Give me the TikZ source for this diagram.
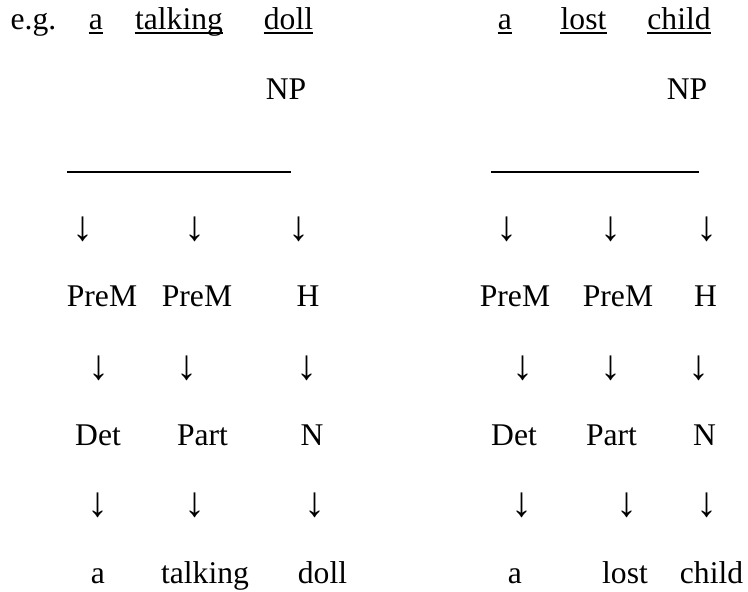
\documentclass[tikz,border=0pt]{standalone}
\usepackage{fontspec}
\setmainfont{Liberation Serif}
\tikzset{
  w/.style   = {inner sep=0pt, anchor=base, font=\fontsize{15.8}{19}\selectfont},
  dn/.style  = {inner sep=0pt, anchor=center, font=\fontsize{21}{24}\selectfont},
  ul/.style  = {line width=0.75pt},
  bar/.style = {line width=0.6pt}
}

\begin{document}
\begin{tikzpicture}[x=0.5pt, y=-0.5pt]
  \useasboundingbox (0,0) rectangle (748,592);

  % frase di esempio (sottolineata)
  \node[w] (eg)  at (33.5,30) {e.g.};
  \node[w] (la)  at (96,30)   {a};
  \node[w] (lt)  at (179,30)  {talking};
  \node[w] (ld)  at (288.5,30){doll};
  \node[w] (ra)  at (505,30)  {a};
  \node[w] (rl)  at (583.5,30){lost};
  \node[w] (rc)  at (679,30)  {child};
  \draw[ul] ([yshift=-1.5pt]la.base west) -- ([yshift=-1.5pt]la.base east);
  \draw[ul] ([yshift=-1.5pt]lt.base west) -- ([yshift=-1.5pt]lt.base east);
  \draw[ul] ([yshift=-1.5pt]ld.base west) -- ([yshift=-1.5pt]ld.base east);
  \draw[ul] ([yshift=-1.5pt]ra.base west) -- ([yshift=-1.5pt]ra.base east);
  \draw[ul] ([yshift=-1.5pt]rl.base west) -- ([yshift=-1.5pt]rl.base east);
  \draw[ul] ([yshift=-1.5pt]rc.base west) -- ([yshift=-1.5pt]rc.base east);

  % NP e barra
  \node[w] (lnp) at (286,100) {NP};
  \node[w] (rnp) at (687,100) {NP};
  \draw[bar] (67,172) -- (291,172);
  \draw[bar] (491,172) -- (699,172);

  % frecce sotto la barra
  \node[dn] (l1a) at (83,229.5)  {↓};
  \node[dn] (l1b) at (195,229.5) {↓};
  \node[dn] (l1c) at (299,229.5) {↓};
  \node[dn] (r1a) at (507,229.5) {↓};
  \node[dn] (r1b) at (611,229.5) {↓};
  \node[dn] (r1c) at (707,229.5) {↓};

  % funzioni
  \node[w] (lf1) at (102,307) {PreM};
  \node[w] (lf2) at (197,307) {PreM};
  \node[w] (lf3) at (308,307) {H};
  \node[w] (rf1) at (515,307) {PreM};
  \node[w] (rf2) at (618,307) {PreM};
  \node[w] (rf3) at (705.5,307) {H};

  \node[dn] (l2a) at (99,368)  {↓};
  \node[dn] (l2b) at (187,368) {↓};
  \node[dn] (l2c) at (307,368) {↓};
  \node[dn] (r2a) at (523,368) {↓};
  \node[dn] (r2b) at (611,368) {↓};
  \node[dn] (r2c) at (699,368) {↓};

  % categorie
  \node[w] (lc1) at (98,445)  {Det};
  \node[w] (lc2) at (202.5,445) {Part};
  \node[w] (lc3) at (312,445) {N};
  \node[w] (rc1) at (514,445) {Det};
  \node[w] (rc2) at (611.5,445) {Part};
  \node[w] (rc3) at (704.5,445) {N};

  \node[dn] (l3a) at (98,505.5)  {↓};
  \node[dn] (l3b) at (195,505.5) {↓};
  \node[dn] (l3c) at (315,505.5) {↓};
  \node[dn] (r3a) at (522,505.5) {↓};
  \node[dn] (r3b) at (627,505.5) {↓};
  \node[dn] (r3c) at (707,505.5) {↓};

  % parole
  \node[w] (lw1) at (98,583)  {a};
  \node[w] (lw2) at (205,583) {talking};
  \node[w] (lw3) at (322.5,583) {doll};
  \node[w] (rw1) at (515,583) {a};
  \node[w] (rw2) at (625,583) {lost};
  \node[w] (rw3) at (711.5,583) {child};

\end{tikzpicture}
\end{document}
